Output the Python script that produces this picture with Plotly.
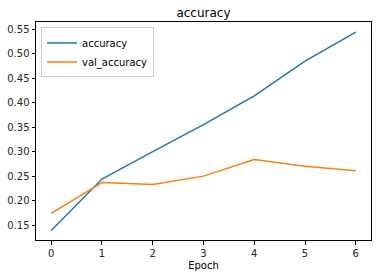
import plotly.graph_objects as go

epochs = [0, 1, 2, 3, 4, 5, 6]
accuracy = [0.139, 0.244, 0.300, 0.355, 0.414, 0.485, 0.544]
val_accuracy = [0.174, 0.237, 0.233, 0.250, 0.284, 0.270, 0.261]
y_ticks = [0.15, 0.20, 0.25, 0.30, 0.35, 0.40, 0.45, 0.50, 0.55]

fig = go.Figure()
fig.add_trace(go.Scatter(x=epochs, y=accuracy, mode="lines", name="accuracy",
                         line=dict(color="#1f77b4", width=1.5)))
fig.add_trace(go.Scatter(x=epochs, y=val_accuracy, mode="lines", name="val_accuracy",
                         line=dict(color="#ff7f0e", width=1.5)))

axis_common = dict(showline=True, linecolor="black", linewidth=1, mirror=True,
                   ticks="outside", ticklen=3.5, tickwidth=1, tickcolor="black",
                   showgrid=False, zeroline=False,
                   tickfont=dict(family="DejaVu Sans", size=10, color="#262626"))

fig.update_layout(
    width=378, height=278,
    margin=dict(l=36, r=7, t=22, b=38),
    paper_bgcolor="white", plot_bgcolor="white",
    title=dict(text="accuracy", x=0.5, xref="paper", xanchor="center",
               y=1 - 13 / 278, yanchor="middle",
               font=dict(family="DejaVu Sans", size=12, color="black")),
    xaxis=dict(range=[-0.3, 6.3], tickvals=epochs, title=dict(text="Epoch", standoff=4,
               font=dict(family="DejaVu Sans", size=10, color="black")), **axis_common),
    yaxis=dict(range=[0.1196, 0.5647], tickvals=y_ticks,
               ticktext=[f"{v:.2f}" for v in y_ticks], **axis_common),
    legend=dict(x=0.015, y=0.975, xanchor="left", yanchor="top",
                bgcolor="rgba(255,255,255,0.8)", bordercolor="#cccccc", borderwidth=1,
                font=dict(family="DejaVu Sans", size=10, color="black"),
                tracegroupgap=0, itemwidth=30),
    showlegend=True,
)

fig.write_html("out.html")
